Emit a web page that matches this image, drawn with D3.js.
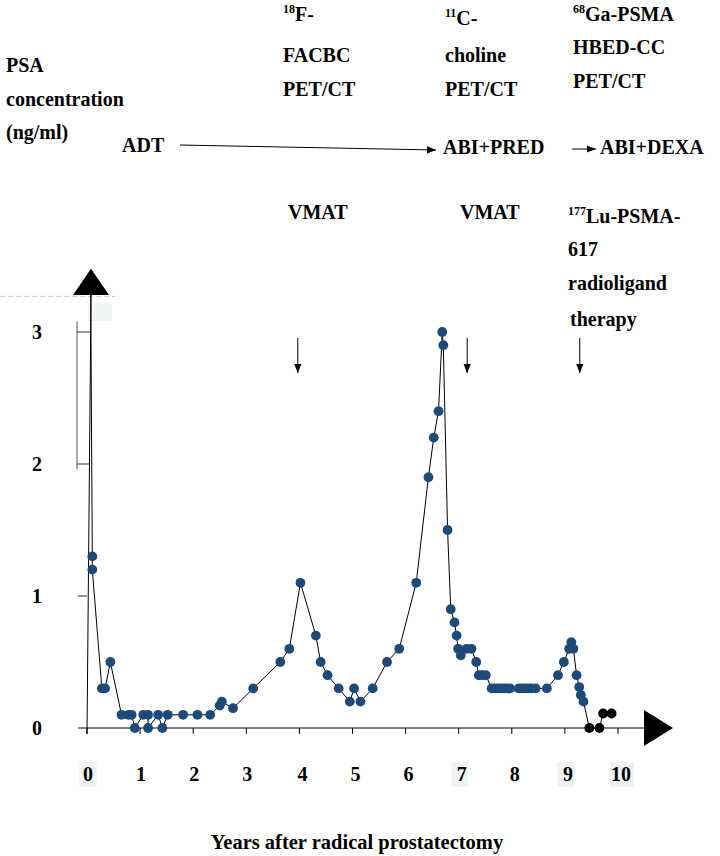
<!DOCTYPE html>
<html>
<head>
<meta charset="utf-8">
<script src="https://cdn.jsdelivr.net/npm/d3@7"></script>
<style>
  html, body { margin: 0; padding: 0; background: #fff; }
  svg { display: block; }
</style>
</head>
<body>
<svg id="chart" width="720" height="856" font-family="'Liberation Serif', 'Times New Roman', Times, serif" font-weight="bold"></svg>
<script>
// ---------------- data ----------------
const xTickLabels = ["0","1","2","3","4","5","6","7","8","9","10"];
const yTickLabels = ["0","1","2","3"];

// first measurement (off the visible scale, line only)
const offscaleYear = [0.07];
const offscalePsa  = [3.28];

// PSA measurements before 177Lu-PSMA-617 therapy (blue markers)
const years = [
  0.10, 0.10, 0.28, 0.34, 0.44, 0.65, 0.78, 0.84, 0.90, 1.06,
  1.15, 1.15, 1.34, 1.42, 1.52, 1.81, 2.08, 2.32, 2.50, 2.54,
  2.75, 3.13, 3.64, 3.81, 4.02, 4.31, 4.40, 4.53, 4.74, 4.95,
  5.03, 5.15, 5.38, 5.65, 5.88, 6.20, 6.43, 6.53, 6.62, 6.69,
  6.71, 6.79, 6.85, 6.92, 6.96, 6.99, 7.04, 7.15, 7.24, 7.33,
  7.38, 7.45, 7.51, 7.62, 7.68, 7.74, 7.80, 7.86, 7.92, 7.97,
  8.13, 8.19, 8.25, 8.31, 8.37, 8.45, 8.66, 8.87, 8.98, 9.08,
  9.12, 9.16, 9.22, 9.27, 9.30, 9.35
];
const psa = [
  1.30, 1.20, 0.30, 0.30, 0.50, 0.10, 0.10, 0.10, 0.00, 0.10,
  0.10, 0.00, 0.10, 0.00, 0.10, 0.10, 0.10, 0.10, 0.17, 0.20,
  0.15, 0.30, 0.50, 0.60, 1.10, 0.70, 0.50, 0.40, 0.30, 0.20,
  0.30, 0.20, 0.30, 0.50, 0.60, 1.10, 1.90, 2.20, 2.40, 3.00,
  2.90, 1.50, 0.90, 0.80, 0.70, 0.60, 0.55, 0.60, 0.60, 0.50,
  0.40, 0.40, 0.40, 0.30, 0.30, 0.30, 0.30, 0.30, 0.30, 0.30,
  0.30, 0.30, 0.30, 0.30, 0.30, 0.30, 0.30, 0.40, 0.50, 0.60,
  0.65, 0.60, 0.40, 0.31, 0.25, 0.20
];

// PSA measurements after 177Lu-PSMA-617 therapy (black markers)
const postYears = [9.46, 9.65, 9.72, 9.88];
const postPsa   = [0.00, 0.00, 0.11, 0.11];

// treatment arrows (year positions of the downward arrows)
const eventYears = [3.97, 7.16, 9.28];

// ---------------- drawing ----------------
const svg = d3.select("#chart");
const x = d3.scaleLinear().domain([0, 10]).range([87, 618]);
const y = d3.scaleLinear().domain([0, 3]).range([728, 332]);

const blue = "#1d4a78";
const FS = 20;

// faint artifacts
svg.append("line").attr("x1", 0).attr("x2", 115).attr("y1", y(3.27)).attr("y2", y(3.27))
  .attr("stroke", "#c8c8c8").attr("stroke-width", 1).attr("stroke-dasharray", "5,3");
svg.append("rect").attr("x", x(0) + 1).attr("y", y(3.22)).attr("width", 24).attr("height", 18)
  .attr("fill", "#f1f5f6");
[0, 7, 9, 10].forEach(v => {
  const w = v === 10 ? 24 : 17;
  svg.append("rect").attr("x", x(v) + (v === 10 ? 4 : 1) - w / 2).attr("y", 762)
    .attr("width", w).attr("height", 25).attr("fill", "#eef4f5");
});

// x axis line + arrow
svg.append("line").attr("x1", 78).attr("x2", 646).attr("y1", y(0)).attr("y2", y(0))
  .attr("stroke", "#000").attr("stroke-width", 1);
svg.append("path")
  .attr("d", `M644,${y(0) - 18}L673,${y(0)}L644,${y(0) + 18}Z`).attr("fill", "#000");

// x ticks
svg.append("g").selectAll("line").data(d3.range(0, 11)).join("line")
  .attr("x1", d => x(d)).attr("x2", d => x(d))
  .attr("y1", y(0)).attr("y2", y(0) + 6)
  .attr("stroke", "#000").attr("stroke-width", 1);

// x tick labels
svg.append("g").selectAll("text").data(xTickLabels).join("text")
  .attr("x", (d, i) => x(i) + (i >= 4 ? 3 : 1))
  .attr("y", 781)
  .attr("text-anchor", "middle")
  .attr("font-size", FS)
  .text(d => d);

// y axis line + arrow
svg.append("line").attr("x1", x(0)).attr("x2", x(0) + 4).attr("y1", y(0) + 6).attr("y2", y(3.28))
  .attr("stroke", "#000").attr("stroke-width", 1);
svg.append("path")
  .attr("d", `M${x(0) + 4},${y(3.48)}L${x(0) + 22},${y(3.28)}L${x(0) - 14},${y(3.28)}Z`).attr("fill", "#000");

// y bracket & ticks
svg.append("line").attr("x1", 77).attr("x2", 77).attr("y1", y(3.08)).attr("y2", y(1.96))
  .attr("stroke", "#555").attr("stroke-width", 1);
[3, 2].forEach(v => svg.append("line").attr("x1", 77).attr("x2", 90).attr("y1", y(v)).attr("y2", y(v))
  .attr("stroke", "#333").attr("stroke-width", 1));
svg.append("line").attr("x1", 78).attr("x2", 87).attr("y1", y(1)).attr("y2", y(1))
  .attr("stroke", "#333").attr("stroke-width", 1);

// y tick labels
svg.append("g").selectAll("text").data(yTickLabels).join("text")
  .attr("x", 37).attr("y", (d, i) => y(i) + 7)
  .attr("text-anchor", "middle")
  .attr("font-size", FS)
  .text(d => d);

// data line
const linePts = offscaleYear.map((d, i) => [d, offscalePsa[i]])
  .concat(years.map((d, i) => [d, psa[i]]))
  .concat(postYears.map((d, i) => [d, postPsa[i]]));
svg.append("path").datum(linePts)
  .attr("d", d3.line().x(d => x(d[0])).y(d => y(d[1])))
  .attr("fill", "none").attr("stroke", "#000").attr("stroke-width", 1);

// markers
svg.append("g").selectAll("circle").data(years.map((d, i) => [d, psa[i]])).join("circle")
  .attr("cx", d => x(d[0])).attr("cy", d => y(d[1])).attr("r", 4.9).attr("fill", blue);
svg.append("g").selectAll("circle").data(postYears.map((d, i) => [d, postPsa[i]])).join("circle")
  .attr("cx", d => x(d[0])).attr("cy", d => y(d[1])).attr("r", 4.9).attr("fill", "#000");

// down arrows
const defs = svg.append("defs");
defs.append("marker").attr("id", "ah").attr("viewBox", "0 0 10 10").attr("refX", 10).attr("refY", 5)
  .attr("markerWidth", 9).attr("markerHeight", 9).attr("markerUnits", "userSpaceOnUse").attr("orient", "auto")
  .append("path").attr("d", "M0,1L10,5L0,9Z").attr("fill", "#000");
svg.append("g").selectAll("line").data(eventYears).join("line")
  .attr("x1", d => x(d)).attr("x2", d => x(d))
  .attr("y1", 338).attr("y2", 373)
  .attr("stroke", "#000").attr("stroke-width", 1).attr("marker-end", "url(#ah)");

// therapy arrows
svg.append("line").attr("x1", 180).attr("y1", 145).attr("x2", 436).attr("y2", 150)
  .attr("stroke", "#000").attr("stroke-width", 1).attr("marker-end", "url(#ah)");
svg.append("line").attr("x1", 572).attr("y1", 149).attr("x2", 596).attr("y2", 149)
  .attr("stroke", "#000").attr("stroke-width", 1).attr("marker-end", "url(#ah)");

// annotation text
function label(txt, xx, yy, sup) {
  const t = svg.append("text").attr("x", xx).attr("y", yy).attr("font-size", FS);
  if (sup) {
    t.append("tspan").attr("font-size", 12).attr("dy", -8).text(sup);
    t.append("tspan").attr("dy", 8).text(txt);
  } else {
    t.text(txt);
  }
}
label("PSA", 6, 72);
label("concentration", 6, 106);
label("(ng/ml)", 6, 139);
label("ADT", 122, 152);

label("F-", 283, 21, "18");
label("FACBC", 283, 62);
label("PET/CT", 283, 96);

label("C-", 445, 25, "11");
label("choline", 445, 62);
label("PET/CT", 445, 96);

label("Ga-PSMA", 573, 21, "68");
label("HBED-CC", 573, 54);
label("PET/CT", 573, 88);

label("ABI+PRED", 443, 154);
label("ABI+DEXA", 600, 154);

label("VMAT", 288, 219);
label("VMAT", 460, 219);

label("Lu-PSMA-", 568, 223, "177");
label("617", 568, 256);
label("radioligand", 568, 290);
label("therapy", 570, 326);

svg.append("text").attr("x", 357).attr("y", 849).attr("text-anchor", "middle")
  .attr("font-size", 20.5).text("Years after radical prostatectomy");
</script>
</body>
</html>
